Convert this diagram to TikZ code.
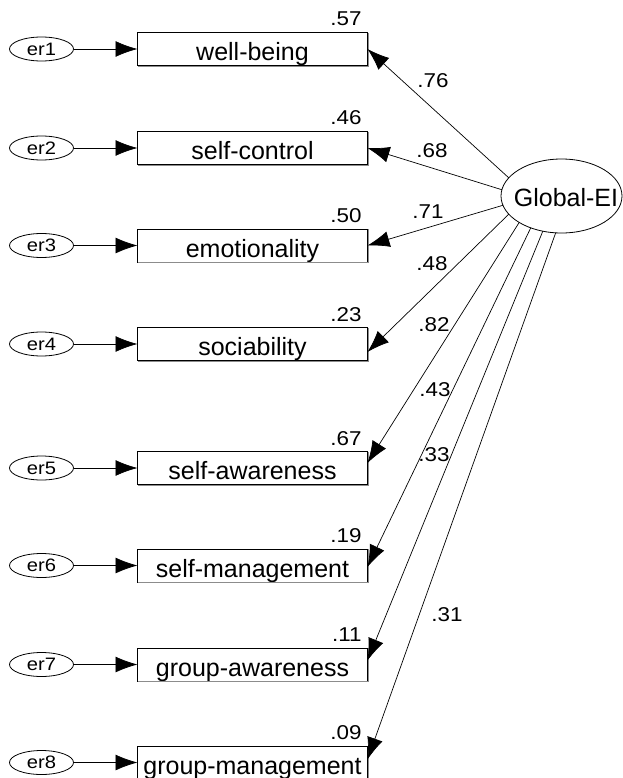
\documentclass[tikz,border=0pt]{standalone}
\usepackage{fontspec}
\setmainfont{Liberation Sans}
\newfontfamily\widesans[FakeStretch=1.12]{Liberation Sans}
\usetikzlibrary{arrows.meta,shapes.geometric}

\begin{document}
\begin{tikzpicture}[x=1pt,y=-1pt,
  every node/.style={inner sep=0pt,outer sep=0pt},
  indicator/.style={draw,line width=0.8pt,minimum width=230pt,minimum height=33pt,
    text height=23pt,text depth=0pt,font=\fontsize{25}{28}\selectfont},
  errterm/.style={draw,ellipse,line width=0.8pt,minimum width=64pt,minimum height=24pt,
    inner xsep=8pt,inner ysep=1pt,font=\widesans\fontsize{18}{20}\selectfont},
  latent/.style={draw,ellipse,line width=0.8pt,minimum width=121pt,minimum height=74pt,
    inner xsep=-19.5pt,text height=21pt,text depth=0pt,font=\fontsize{25}{28}\selectfont},
  coef/.style={font=\widesans\fontsize{20}{22}\selectfont},
  rsq/.style={coef,anchor=base east},
  edgeshade/.style={draw=black!45,line width=0.9pt},
  regpath/.style={line width=0.7pt,-{Latex[length=22pt,width=16pt]}},
]
\useasboundingbox (0,0) rectangle (622,778);

% observed indicators
\node[indicator] (b1) at (252.5,49)    {well-being};
\node[indicator] (b2) at (252.5,148)   {self-control};
\node[indicator] (b3) at (252.5,245.5) {emotionality};
\node[indicator] (b4) at (252.5,344)   {sociability};
\node[indicator] (b5) at (252.5,468)   {self-awareness};
\node[indicator] (b6) at (252.5,565.5) {self-management};
\node[indicator] (b7) at (252.5,664.5) {group-awareness};
\node[indicator] (b8) at (252.5,762.5) {group-management};

% soft shading on the lower and right edges of each box, error terms
\foreach \i in {1,...,8}{
  \draw[edgeshade] ([xshift=0.9pt,yshift=-0.4pt]b\i.north east)
    -- ([xshift=0.9pt,yshift=-0.9pt]b\i.south east)
    -- ([xshift=0.4pt,yshift=-0.9pt]b\i.south west);
  \node[errterm] (e\i) at (41.5,0 |- b\i) {er\i};
  \draw[regpath] (e\i) -- (b\i);
}

% squared multiple correlations
\node[rsq] (r1) at ([xshift=-6pt,yshift=6.5pt]b1.north east) {.57};
\node[rsq] (r2) at ([xshift=-6pt,yshift=6.5pt]b2.north east) {.46};
\node[rsq] (r3) at ([xshift=-6pt,yshift=6.5pt]b3.north east) {.50};
\node[rsq] (r4) at ([xshift=-6pt,yshift=6.5pt]b4.north east) {.23};
\node[rsq] (r5) at ([xshift=-6pt,yshift=6.5pt]b5.north east) {.67};
\node[rsq] (r6) at ([xshift=-6pt,yshift=6.5pt]b6.north east) {.19};
\node[rsq] (r7) at ([xshift=-6pt,yshift=6.5pt]b7.north east) {.11};
\node[rsq] (r8) at ([xshift=-6pt,yshift=6.5pt]b8.north east) {.09};

% latent factor (label sits slightly right of the centre)
\node[latent] (G) at (561.5,196) {\hspace*{9pt}Global-EI};

% factor loadings
\draw[regpath] (G.161) -- (b1.east);
\draw[regpath] (G.174) -- (b2.east);
\draw[regpath] (G.189) -- (b3.east);
\draw[regpath] (G.199) -- ([yshift=-8pt]b4.east);
\draw[regpath] (G.212) -- ([yshift=5pt]b5.east);
\draw[regpath] (G.226) -- ([yshift=-1.5pt]b6.east);
\draw[regpath] (G.242) -- ([yshift=4pt]b7.east);
\draw[regpath] (G.261) -- ([yshift=3pt]b8.east);

\node[coef] (l1) at (433,81)  {.76};
\node[coef] (l2) at (432,151) {.68};
\node[coef] (l3) at (428,212) {.71};
\node[coef] (l4) at (432,264) {.48};
\node[coef] (l5) at (434,325) {.82};
\node[coef] (l6) at (435,390) {.43};
\node[coef] (l7) at (434,455) {.33};
\node[coef] (l8) at (447,615) {.31};
\end{tikzpicture}
\end{document}
